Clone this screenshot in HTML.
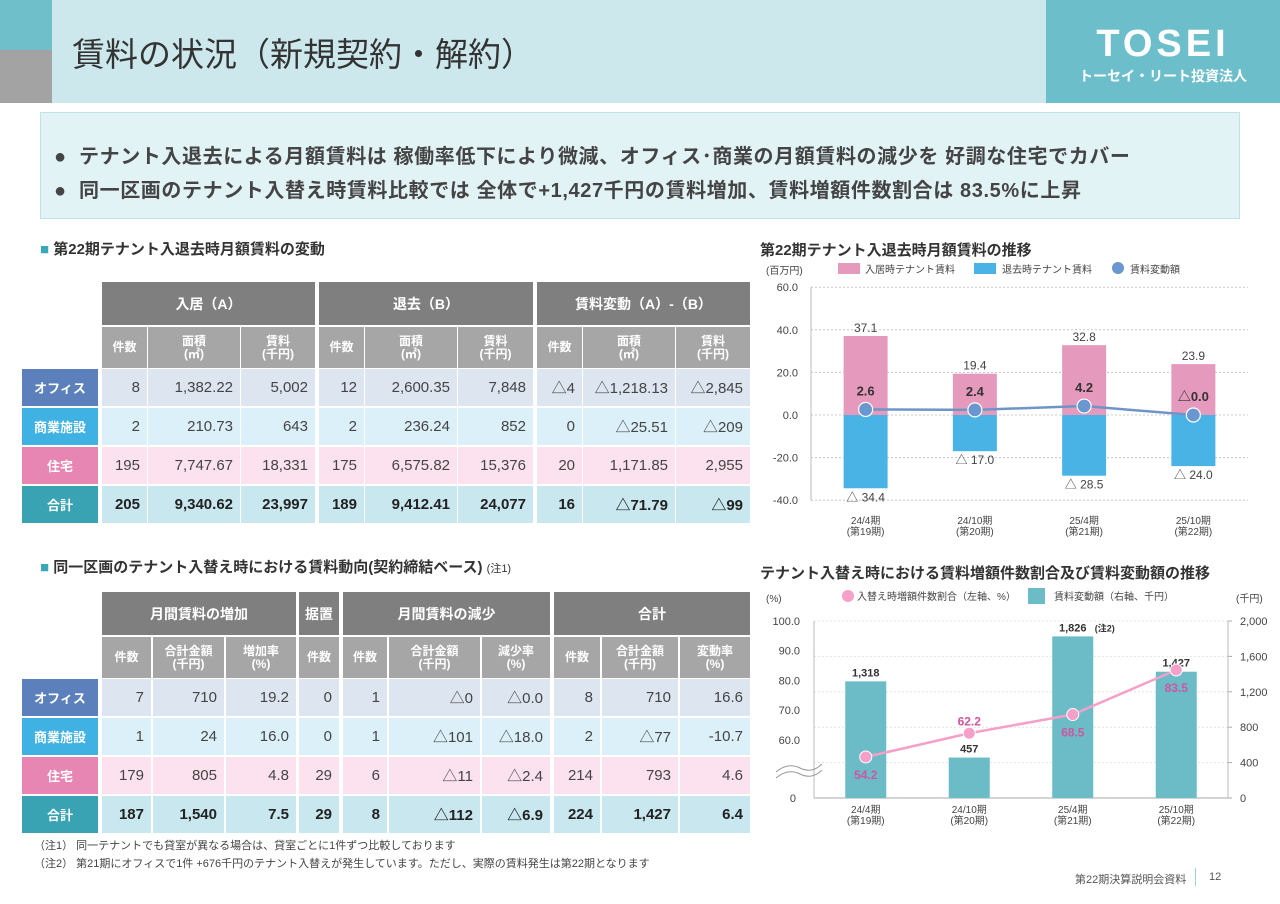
<!DOCTYPE html>
<html><head><meta charset="utf-8">
<style>
*{margin:0;padding:0;box-sizing:border-box}
body{width:1280px;height:904px;position:relative;background:#fff;font-family:"Liberation Sans","Noto Sans CJK JP",sans-serif;color:#333;overflow:hidden}
.abs{position:absolute}
.c{position:absolute;display:flex;align-items:center;font-size:15px;color:#444;white-space:nowrap}
.hd{background:#7f7f7f;color:#fff;font-weight:bold;justify-content:center;font-size:14px}
.sh{background:#a6a6a6;color:#fff;font-weight:bold;justify-content:center;text-align:center;font-size:12px;line-height:13px}
.lb{color:#fff;font-weight:bold;justify-content:center;font-size:13px}
.num{justify-content:flex-end;padding-right:7px}
.tot{font-weight:bold;color:#222}
svg text{font-family:"Liberation Sans","Noto Sans CJK JP",sans-serif}
</style></head><body>
<div class="abs" style="left:0;top:0;width:1280px;height:103px;background:#cce8ec"></div>
<div class="abs" style="left:0;top:0;width:52px;height:50px;background:#6fbfca"></div>
<div class="abs" style="left:0;top:50px;width:52px;height:53px;background:#a3a3a3"></div>
<div class="abs" style="left:72px;top:28px;font-size:33px;color:#333;white-space:nowrap">賃料の状況（新規契約・解約）</div>
<div class="abs" style="left:1046px;top:0;width:234px;height:103px;background:#6cbfca;color:#fff;text-align:center">
 <div style="font-size:38px;font-weight:bold;letter-spacing:4px;margin-top:24px;line-height:40px">TOSEI</div>
 <div style="font-size:14px;font-weight:bold;margin-top:2px">トーセイ・リート投資法人</div>
</div>
<div class="abs" style="left:40px;top:112px;width:1200px;height:107px;background:#e2f3f6;border:1px solid #bfe3ea"></div>
<div class="abs" style="left:54px;top:140px;font-size:20px;letter-spacing:0.6px;font-weight:bold;color:#444;white-space:nowrap">●&nbsp; テナント入退去による月額賃料は 稼働率低下により微減、オフィス･商業の月額賃料の減少を 好調な住宅でカバー</div>
<div class="abs" style="left:54px;top:174px;font-size:20px;letter-spacing:0.6px;font-weight:bold;color:#444;white-space:nowrap">●&nbsp; 同一区画のテナント入替え時賃料比較では 全体で+1,427千円の賃料増加、賃料増額件数割合は 83.5%に上昇</div>

<div class="abs" style="left:40px;top:238px;font-size:15px;font-weight:bold;white-space:nowrap"><span style="color:#3aa8b8">■</span> 第22期テナント入退去時月額賃料の変動</div>
<div class="abs" style="left:40px;top:556px;font-size:15px;font-weight:bold;white-space:nowrap"><span style="color:#3aa8b8">■</span> 同一区画のテナント入替え時における賃料動向(契約締結ベース) <span style="font-size:11px;font-weight:normal">(注1)</span></div>

<div id="tables"></div>

<div class="abs" style="left:34px;top:837px;font-size:11px;color:#444;white-space:nowrap">（注1） 同一テナントでも貸室が異なる場合は、貸室ごとに1件ずつ比較しております</div>
<div class="abs" style="left:34px;top:855px;font-size:11px;color:#444;white-space:nowrap">（注2） 第21期にオフィスで1件 +676千円のテナント入替えが発生しています。ただし、実際の賃料発生は第22期となります</div>
<div class="abs" style="left:1075px;top:871px;font-size:11px;color:#555;white-space:nowrap">第22期決算説明会資料</div>
<div class="abs" style="left:1195px;top:868px;width:1px;height:18px;background:#9fd0d8"></div>
<div class="abs" style="left:1209px;top:871px;font-size:11px;color:#555">12</div>

<svg id="chart1" class="abs" style="left:0;top:0" width="1280" height="904"></svg>

<script>
// ---------- Chart 1 data ----------
const c1Categories = ['24/4期','24/10期','25/4期','25/10期'];
const c1SubLabels = ['(第19期)','(第20期)','(第21期)','(第22期)'];
const c1MoveIn = [37.1, 19.4, 32.8, 23.9];
const c1MoveOut = [-34.4, -17.0, -28.5, -24.0];
const c1Change = [2.6, 2.4, 4.2, 0.0];
const c1ChangeLabels = ['2.6','2.4','4.2','△0.0'];
const c1Ticks = [60, 40, 20, 0, -20, -40];

// ---------- Chart 2 data ----------
const c2Categories = ['24/4期','24/10期','25/4期','25/10期'];
const c2SubLabels = ['(第19期)','(第20期)','(第21期)','(第22期)'];
const c2Amount = [1318, 457, 1826, 1427];
const c2AmountLabels = ['1,318','457','1,826','1,427'];
const c2Ratio = [54.2, 62.2, 68.5, 83.5];
const c2LabelSide = ['below','above','below','below'];
const c2LeftTicks = [100, 90, 80, 70, 60];
const c2RightTicks = [0, 400, 800, 1200, 1600, 2000];

const NS = 'http://www.w3.org/2000/svg';
const svg = document.getElementById('chart1');
function mk(tag, attrs, parent){
  const e = document.createElementNS(NS, tag);
  for (const k in attrs) e.setAttribute(k, attrs[k]);
  (parent||svg).appendChild(e);
  return e;
}
function txt(x,y,s,opts){
  const e = mk('text', Object.assign({x:x,y:y,'font-size':11,fill:'#444','text-anchor':'middle'}, opts||{}));
  e.textContent = s;
  return e;
}

// ===== Chart 1 =====
const y1 = v => 415 - v*2.13;
const p1L = 811, p1R = 1248;
const bw1 = (p1R - p1L)/c1Categories.length;
const x1 = i => p1L + (i+0.5)*bw1;

let t = txt(760, 255, '第22期テナント入退去時月額賃料の推移', {'text-anchor':'start','font-size':15,'font-weight':'bold',fill:'#333'});


t = txt(766, 274, '(百万円)', {'text-anchor':'start','font-size':10});


let e = mk('rect', {x:838,y:263,width:22,height:11,fill:'#e59abd'});


t = txt(865, 273, '入居時テナント賃料', {'text-anchor':'start','font-size':10});


e = mk('rect', {x:974,y:263,width:22,height:11,fill:'#4ab3e6'});


t = txt(1002, 273, '退去時テナント賃料', {'text-anchor':'start','font-size':10});


e = mk('circle', {cx:1118,cy:268,r:6,fill:'#6a97d0'});


t = txt(1130, 273, '賃料変動額', {'text-anchor':'start','font-size':10});



c1Ticks.forEach(v=>{
  const g = mk('line', {x1:p1L,x2:p1R,y1:y1(v),y2:y1(v),stroke:'#c8c8c8','stroke-dasharray':'2,2'});
  
  
  const l = txt(798, y1(v)+4, v.toFixed(1), {'text-anchor':'end','font-size':11});
  
  
});
e = mk('line', {x1:p1L,x2:p1L,y1:y1(60),y2:y1(-40),stroke:'#bbb'});



c1Categories.forEach((c,i)=>{
  const cx = x1(i), w = 44;
  let b = mk('rect', {x:cx-w/2,y:y1(c1MoveIn[i]),width:w,height:y1(0)-y1(c1MoveIn[i]),fill:'#e59abd'});
  
  
  b = mk('rect', {x:cx-w/2,y:y1(0),width:w,height:y1(c1MoveOut[i])-y1(0),fill:'#4ab3e6'});
  
  
  let l = txt(cx, y1(c1MoveIn[i])-4, c1MoveIn[i].toFixed(1), {'font-size':12});
  
  
  l = txt(cx, y1(c1MoveOut[i])+13, '△ '+Math.abs(c1MoveOut[i]).toFixed(1), {'font-size':12});
  
  
  l = txt(cx, 524, c, {'font-size':10});
  
  
  l = txt(cx, 535, c1SubLabels[i], {'font-size':10});
  
  
});
const pts1 = c1Change.map((v,i)=>x1(i)+','+y1(v)).join(' ');
e = mk('polyline', {points:pts1,fill:'none',stroke:'#6f95c8','stroke-width':2.5});


c1Change.forEach((v,i)=>{
  const p = mk('circle', {cx:x1(i),cy:y1(v),r:7,fill:'#6a97d0',stroke:'#fff','stroke-width':1.2});
  
  
  const l = txt(x1(i), y1(v)-14, c1ChangeLabels[i], {'font-size':13,'font-weight':'bold',fill:'#333'});
  
  
});

// ===== Chart 2 =====
const yR = v => 798 - v*0.0885;
const yL = v => 621 + (100-v)*2.97;
const p2L = 814, p2R = 1228;
const bw2 = (p2R - p2L)/c2Categories.length;
const x2 = i => p2L + (i+0.5)*bw2;

t = txt(760, 578, 'テナント入替え時における賃料増額件数割合及び賃料変動額の推移', {'text-anchor':'start','font-size':15,'font-weight':'bold',fill:'#333'});


t = txt(766, 602, '(%)', {'text-anchor':'start','font-size':10});


t = txt(1236, 602, '(千円)', {'text-anchor':'start','font-size':10});


e = mk('circle', {cx:848,cy:596,r:6,fill:'#f4a0c8'});


t = txt(857, 600, '入替え時増額件数割合（左軸、%）', {'text-anchor':'start','font-size':10});


e = mk('rect', {x:1028,y:588,width:17,height:16,fill:'#6bbcc6'});


t = txt(1054, 600, '賃料変動額（右軸、千円）', {'text-anchor':'start','font-size':10});



c2RightTicks.forEach(v=>{
  const g = mk('line', {x1:p2L,x2:p2R,y1:yR(v),y2:yR(v),stroke:'#e4e4e4','stroke-dasharray':'2,2'});
  
  
  const l = txt(1240, yR(v)+4, v.toLocaleString('en-US'), {'text-anchor':'start','font-size':11});
  
  
  const tk = mk('line', {x1:p2R,x2:p2R+4,y1:yR(v),y2:yR(v),stroke:'#aaa'});
  
  
});
c2LeftTicks.forEach(v=>{
  const l = txt(800, yL(v)+4, v.toFixed(1), {'text-anchor':'end','font-size':11});
  
  
});
t = txt(796, 802, '0', {'text-anchor':'end','font-size':11});


e = mk('line', {x1:p2L,x2:p2L,y1:621,y2:798,stroke:'#bbb'});


e = mk('line', {x1:p2R,x2:p2R,y1:621,y2:798,stroke:'#bbb'});


e = mk('line', {x1:p2L,x2:p2R,y1:798,y2:798,stroke:'#aaa'});


e = mk('path', {d:'M776 772 Q788 762 800 768 T822 764 M776 778 Q788 768 800 774 T822 770',fill:'none',stroke:'#999','stroke-width':1});



c2Categories.forEach((c,i)=>{
  const cx = x2(i), w = 41;
  const b = mk('rect', {x:cx-w/2,y:yR(c2Amount[i]),width:w,height:798-yR(c2Amount[i]),fill:'#6bbcc6'});
  
  
  let l = txt(cx, yR(c2Amount[i])-5, c2AmountLabels[i], {'font-size':11,'font-weight':'bold',fill:'#333'});
  
  
  l = txt(cx, 813, c, {'font-size':10});
  
  
  l = txt(cx, 824, c2SubLabels[i], {'font-size':10});
  
  
});
t = txt(x2(2)+22, yR(c2Amount[2])-5, '(注2)', {'font-size':9,'font-weight':'bold',fill:'#333','text-anchor':'start'});



const pts2 = c2Ratio.map((v,i)=>x2(i)+','+yL(v)).join(' ');
e = mk('polyline', {points:pts2,fill:'none',stroke:'#f4a0c8','stroke-width':2.5});


c2Ratio.forEach((v,i)=>{
  const p = mk('circle', {cx:x2(i),cy:yL(v),r:6,fill:'#f4a0c8',stroke:'#fff','stroke-width':1});
  
  
  const dy = c2LabelSide[i]==='above' ? -8 : 22;
  const l = txt(x2(i), yL(v)+dy, v.toFixed(1), {'font-size':12,'font-weight':'bold',fill:'#d055a0'});
  
  
});

// ===== Tables =====
const tables = document.getElementById('tables');
function cell(x,y,w,h,html,cls,bg){
  const d = document.createElement('div');
  d.className = 'c '+cls;
  d.style.left = x+'px'; d.style.top = y+'px'; d.style.width = w+'px'; d.style.height = h+'px';
  if (bg) d.style.background = bg;
  d.innerHTML = html;
  tables.appendChild(d);
  return d;
}
const rowLabels = ['オフィス','商業施設','住宅','合計'];
const labelBg = ['#5b80bb','#3fb1e3','#e886b3','#3aa3b3'];
const dataBg = ['#dde5f0','#dcf0fa','#fbe2ee','#c8e7ee'];

// Table 1
const t1Groups = ['入居（A）','退去（B）','賃料変動（A）-（B）'];
const t1Sub = ['件数','面積<br>(㎡)','賃料<br>(千円)'];
const t1Rows = [
 ['8','1,382.22','5,002','12','2,600.35','7,848','△4','△1,218.13','△2,845'],
 ['2','210.73','643','2','236.24','852','0','△25.51','△209'],
 ['195','7,747.67','18,331','175','6,575.82','15,376','20','1,171.85','2,955'],
 ['205','9,340.62','23,997','189','9,412.41','24,077','16','△71.79','△99']
];
const t1Cols = [[102,45],[148,92],[241,74],[319,45],[365,92],[458,75],[537,45],[583,92],[676,74]];
const t1RowY = [369,408,447,486];
[[102,213],[319,214],[537,213]].forEach((g,i)=>{
  const d = cell(g[0],282,g[1],43,t1Groups[i],'hd');
  
  
});
t1Cols.forEach((c,i)=>{
  const d = cell(c[0],327,c[1],41,t1Sub[i%3],'sh');
  
  
});
t1RowY.forEach((y,r)=>{
  const l = cell(22,y,76,37,rowLabels[r],'lb',labelBg[r]);
  
  
  t1Cols.forEach((c,i)=>{
    const d = cell(c[0],y,c[1],37,t1Rows[r][i],'num'+(r===3?' tot':''),dataBg[r]);
    
    
  });
});

// Table 2
const t2Groups = [['月間賃料の増加',102,194],['据置',299,40],['月間賃料の減少',343,207],['合計',554,196]];
const t2Sub = ['件数','合計金額<br>(千円)','増加率<br>(%)','件数','件数','合計金額<br>(千円)','減少率<br>(%)','件数','合計金額<br>(千円)','変動率<br>(%)'];
const t2Rows = [
 ['7','710','19.2','0','1','△0','△0.0','8','710','16.6'],
 ['1','24','16.0','0','1','△101','△18.0','2','△77','-10.7'],
 ['179','805','4.8','29','6','△11','△2.4','214','793','4.6'],
 ['187','1,540','7.5','29','8','△112','△6.9','224','1,427','6.4']
];
const t2Cols = [[102,49],[153,71],[226,70],[299,40],[343,44],[389,91],[482,68],[554,46],[602,76],[680,70]];
const t2RowY = [679,718,757,796];
t2Groups.forEach(g=>{
  const d = cell(g[1],592,g[2],43,g[0],'hd');
  
  
});
t2Cols.forEach((c,i)=>{
  const d = cell(c[0],637,c[1],41,t2Sub[i],'sh');
  
  
});
t2RowY.forEach((y,r)=>{
  const l = cell(22,y,76,37,rowLabels[r],'lb',labelBg[r]);
  
  
  t2Cols.forEach((c,i)=>{
    const d = cell(c[0],y,c[1],37,t2Rows[r][i],'num'+(r===3?' tot':''),dataBg[r]);
    
    
  });
});
</script>
</body></html>
